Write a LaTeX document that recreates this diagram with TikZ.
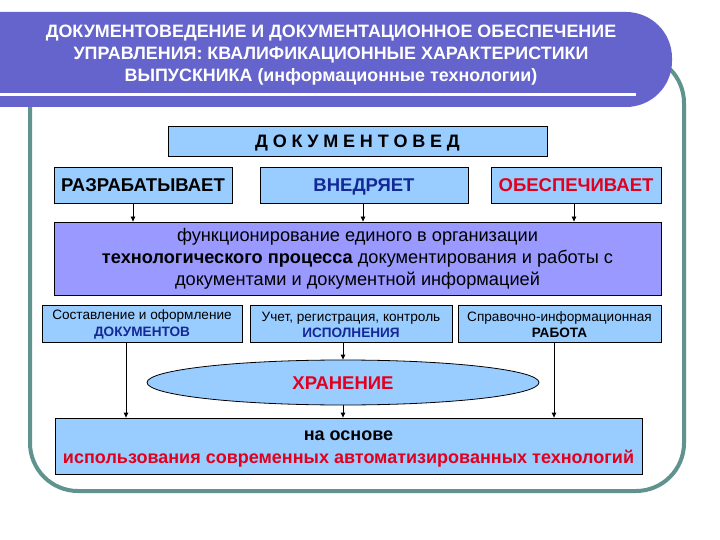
\documentclass[tikz,border=0pt]{standalone}
\usepackage{fontspec}
\setmainfont{Liberation Sans}
\usetikzlibrary{shapes.geometric,arrows.meta}
\definecolor{banner}{RGB}{100,100,204}
\definecolor{framec}{RGB}{96,146,142}
\definecolor{lblue}{RGB}{153,204,255}
\definecolor{lpurple}{RGB}{153,153,255}
\definecolor{dblue}{RGB}{20,40,150}
\definecolor{tred}{RGB}{225,0,30}
\newcommand{\lsp}{\kern4.8pt}
\begin{document}
\begin{tikzpicture}[x=1pt,y=-1pt,
 box/.style={draw=black, line width=0.8pt, inner sep=0pt},
 lb/.style={box, fill=lblue},
 arr/.style={-{Triangle[length=5pt,width=4.5pt]}, line width=0.8pt},
 bigf/.style={font=\fontsize{18.5}{22}\selectfont\bfseries, text height=13.3pt, text depth=0pt},
 midf/.style={font=\fontsize{18.2}{22}\selectfont, align=center},
 smallf/.style={font=\fontsize{13.6}{16.5}\selectfont, align=center}]
\useasboundingbox (0,0) rectangle (720,540);
\fill[white] (0,0) rectangle (720,540);
% frame and banner
\draw[framec, line width=4pt, rounded corners=48pt] (30,55) rectangle (684,491);
\fill[banner, rounded corners=46pt] (-60,12) rectangle (672,107);
\fill[white] (0,93.5) rectangle (636,96.5);
\node[text=white, font=\fontsize{17.9}{22}\selectfont\bfseries, align=center] (title) at (331,55.5)
 {ДОКУМЕНТОВЕДЕНИЕ И ДОКУМЕНТАЦИОННОЕ ОБЕСПЕЧЕНИЕ\\
  УПРАВЛЕНИЯ: КВАЛИФИКАЦИОННЫЕ ХАРАКТЕРИСТИКИ\\
  ВЫПУСКНИКА (информационные технологии)};
% boxes
\node[lb, minimum width=379pt, minimum height=30pt, font=\fontsize{18}{19}\selectfont\bfseries, text height=12.9pt, text depth=0pt] (dok) at (357.5,141.5)
 {Д\lsp О\lsp К\lsp У\lsp М\lsp Е\lsp Н\lsp Т\lsp О\lsp В\lsp Е\lsp Д};
\node[lb, bigf, minimum width=178pt, minimum height=36pt] (razr) at (143,185) {РАЗРАБАТЫВАЕТ};
\node[lb, bigf, text=dblue, minimum width=208pt, minimum height=36pt] (vned) at (364,185) {ВНЕДРЯЕТ};
\node[lb, bigf, text=tred, minimum width=170pt, minimum height=36pt] (obes) at (576,185) {ОБЕСПЕЧИВАЕТ};
\node[box, fill=lpurple, midf, minimum width=607pt, minimum height=73pt] (func) at (357.5,258.5)
 {функционирование единого в организации\\
  \textbf{технологического процесса} документирования и работы с\\
  документами и документной информацией};
\node[lb, smallf, minimum width=200pt, minimum height=37pt] (sost) at (142,323.5)
 {\rule{0pt}{12pt}Составление и оформление\\ \textcolor{dblue}{\textbf{ДОКУМЕНТОВ}}};
\node[lb, smallf, minimum width=202pt, minimum height=37pt] (uchet) at (351,323.5)
 {\rule{0pt}{12pt}Учет, регистрация, контроль\\ \textcolor{dblue}{\textbf{ИСПОЛНЕНИЯ}}};
\node[lb, smallf, minimum width=203pt, minimum height=37pt] (sprav) at (559.5,323.5)
 {\rule{0pt}{12pt}Справочно-информационная\\ \textbf{РАБОТА}};
\node[ellipse, box, fill=lblue, bigf, text=tred, minimum width=392pt, minimum height=45pt] (hran) at (343,382.5) {ХРАНЕНИЕ};
\node[lb, font=\fontsize{18}{23}\selectfont\bfseries, align=center, minimum width=587pt, minimum height=56pt] (osn) at (348.5,446)
 {\rule{0pt}{16pt}на основе\\ \textcolor{tred}{использования современных автоматизированных технологий}};
% arrow columns
\coordinate (c1) at (133,0);
\coordinate (c2) at (363,0);
\coordinate (c3) at (574,0);
\coordinate (d1) at (126,0);
\coordinate (d2) at (343,0);
\coordinate (d3) at (554,0);
\draw[arr] (razr.south -| c1) -- (func.north -| c1);
\draw[arr] (vned.south -| c2) -- (func.north -| c2);
\draw[arr] (obes.south -| c3) -- (func.north -| c3);
\draw[arr] (sost.south -| d1) -- (osn.north -| d1);
\draw[arr] (uchet.south -| d2) -- (hran.north);
\draw[arr] (hran.south) -- (osn.north -| d2);
\draw[arr] (sprav.south -| d3) -- (osn.north -| d3);
\end{tikzpicture}
\end{document}
